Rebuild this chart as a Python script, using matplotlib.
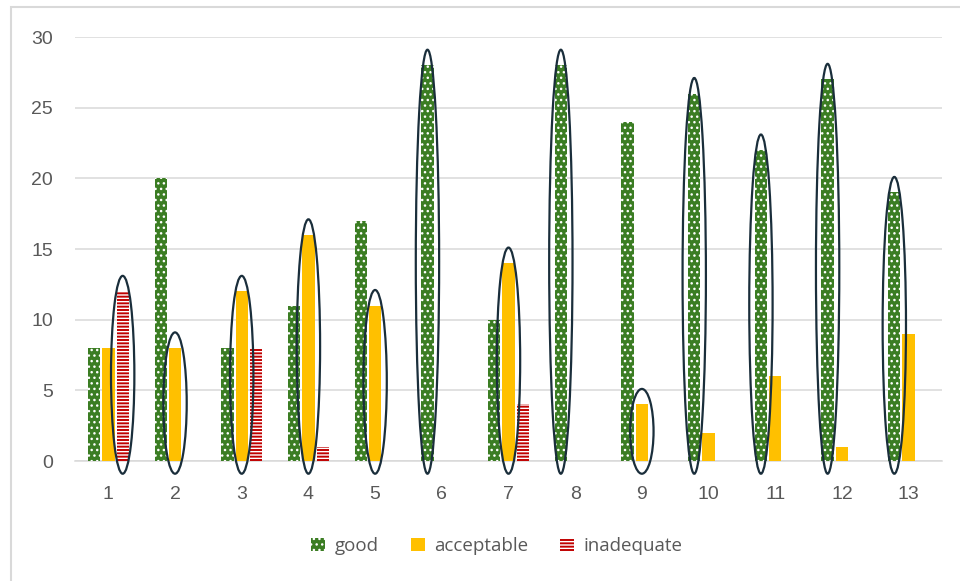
import numpy as np
import matplotlib.pyplot as plt
from matplotlib.patches import Ellipse, Rectangle

plt.rcParams['font.family'] = ['Liberation Sans', 'DejaVu Sans']
plt.rcParams['hatch.linewidth'] = 1.0

categories = ['1', '2', '3', '4', '5', '6', '7', '8', '9', '10', '11', '12', '13']
good = [8, 20, 8, 11, 17, 28, 10, 28, 24, 26, 22, 27, 19]
acceptable = [8, 8, 12, 16, 11, 0, 14, 0, 4, 2, 6, 1, 9]
inadequate = [12, 0, 8, 1, 0, 0, 4, 0, 0, 0, 0, 0, 0]
# which bar is circled in each group
circled = ['inadequate', 'acceptable', 'acceptable', 'acceptable', 'acceptable', 'good',
           'acceptable', 'good', 'acceptable', 'good', 'good', 'good', 'good']

series = {'good': good, 'acceptable': acceptable, 'inadequate': inadequate}
offsets = {'good': -0.215, 'acceptable': 0.0, 'inadequate': 0.215}
colors = {'good': '#3b7d23', 'acceptable': '#ffc000', 'inadequate': '#c00000'}
hatches = {'good': '...', 'acceptable': None, 'inadequate': '-----'}

fig = plt.figure(figsize=(9.6, 5.81), dpi=100)
ax = fig.add_axes([75 / 960, 120 / 581, 867 / 960, 424 / 581])

x = np.arange(1, len(categories) + 1)
bw = 0.185
for name, vals in series.items():
    ax.bar(x + offsets[name], vals, width=bw, color=colors[name],
           hatch=hatches[name], edgecolor='white', linewidth=0,
           label=name, zorder=3)

for i, name in enumerate(circled):
    v = series[name][i]
    bottom, top = -0.9, v + 1.1
    e = Ellipse((x[i] + offsets[name], (bottom + top) / 2), 0.35, top - bottom,
                fill=False, edgecolor='#1a2e3b', linewidth=1.6, zorder=4, clip_on=False)
    ax.add_patch(e)

ax.set_xlim(0.5, 13.5)
ax.set_ylim(0, 30)
ax.set_yticks(range(0, 31, 5))
ax.set_xticks(x)
ax.set_xticklabels(categories)
ax.grid(axis='y', color='#d9d9d9', linewidth=1.1, zorder=0)
for s in ['top', 'right', 'left']:
    ax.spines[s].set_visible(False)
ax.spines['bottom'].set_color('#d9d9d9')
ax.spines['bottom'].set_linewidth(1.1)
ax.tick_params(axis='both', length=0, labelsize=14, colors='#595959')
ax.tick_params(axis='x', pad=18)
ax.tick_params(axis='y', pad=16)

leg = fig.legend(loc='center', bbox_to_anchor=(497 / 960, 35 / 581), ncol=3, frameon=False,
                 handlelength=0.75, handleheight=0.75, handletextpad=0.5, columnspacing=1.7,
                 prop={'family': 'Open Sans', 'size': 13.5})
for t in leg.get_texts():
    t.set_color('#595959')

fig.patches.append(Rectangle((10.5 / 960, -0.1), 1.2, (581 - 7) / 581 + 0.1,
                             transform=fig.transFigure, fill=False,
                             edgecolor='#d9d9d9', linewidth=1.5))

fig.savefig('out.png', dpi=100)
